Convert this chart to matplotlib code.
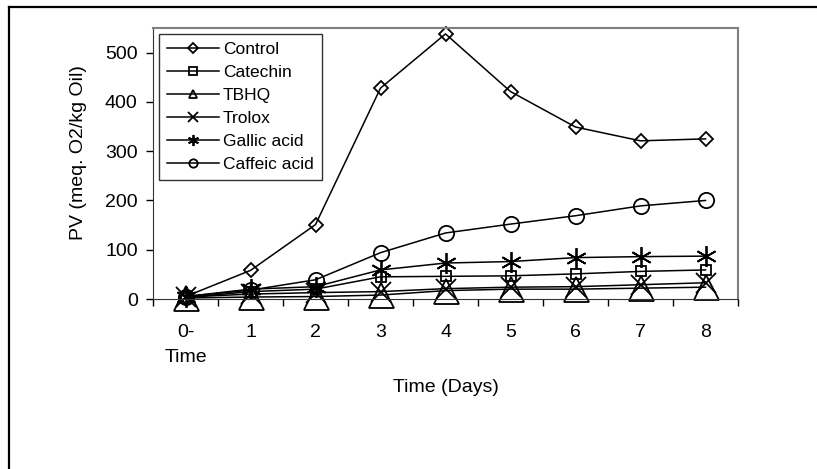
import matplotlib.pyplot as plt
from matplotlib.lines import Line2D
from matplotlib.ticker import FixedLocator

plt.rcParams['font.family'] = ['Liberation Sans', 'DejaVu Sans']

# data (PV, meq O2/kg oil)
days = ["0-\nTime", "1", "2", "3", "4", "5", "6", "7", "8"]
control = [5, 58, 151, 428, 538, 421, 349, 321, 325]
catechin = [3, 15, 20, 45, 46, 47, 51, 56, 59]
tbhq = [2, 4, 5, 8, 17, 20, 20, 22, 24]
trolox = [4, 10, 13, 15, 21, 24, 25, 29, 33]
gallic = [5, 20, 25, 59, 73, 76, 84, 86, 87]
caffeic = [5, 18, 39, 94, 134, 152, 169, 189, 200]

series = [
    ("Control", control, "D", 7, 5),
    ("Catechin", catechin, "s", 7, 6),
    ("TBHQ", tbhq, "^", 18, 6),
    ("Trolox", trolox, "x", 14, 7),
    ("Gallic acid", gallic, (6, 2, 0), 15, 8),
    ("Caffeic acid", caffeic, "o", 11, 6),
]

W, H = 817, 469
fig = plt.figure(figsize=(W / 100, H / 100), dpi=100)
ax = fig.add_axes([153 / W, 1 - 299 / H, (738 - 153) / W, (299 - 28) / H])

xs = list(range(len(days)))
handles = []
for name, vals, mk, ms, lms in series:
    ax.plot(xs, vals, color="black", lw=1.1, marker=mk, ms=ms,
            mfc="none", mec="black", mew=1.3, clip_on=False)
    handles.append(Line2D([], [], color="black", lw=1.1, marker=mk, ms=lms,
                          mfc="none", mec="black", mew=1.3, label=name))

ax.set_xlim(-0.5, 8.5)
ax.set_ylim(0, 550)
ax.xaxis.set_major_locator(FixedLocator([i - 0.5 for i in range(10)]))
ax.xaxis.set_minor_locator(FixedLocator(xs))
ax.set_xticklabels([], minor=False)
ax.set_xticklabels(days, minor=True, fontsize=14, linespacing=1.65,
                   va="top", ha="center")
ax.tick_params(axis="x", which="major", direction="out", length=5, width=1)
ax.tick_params(axis="x", which="minor", length=0, pad=18)
ax.set_yticks([0, 100, 200, 300, 400, 500])
ax.tick_params(axis="y", direction="out", length=5, width=1, labelsize=14, pad=6)

ax.spines["top"].set_color("#808080")
ax.spines["right"].set_color("#808080")
ax.spines["top"].set_linewidth(1.5)
ax.spines["right"].set_linewidth(1.5)
ax.spines["left"].set_color("#333333")
ax.spines["bottom"].set_color("#333333")

ax.set_ylabel("PV (meq. O2/kg Oil)", fontsize=14)
ax.yaxis.set_label_coords(-0.112, 0.54)
ax.set_xlabel("Time (Days)", fontsize=14, labelpad=9)

leg = ax.legend(handles=handles, loc="upper left", bbox_to_anchor=(0.01, 0.978),
                fontsize=12.5, frameon=True, fancybox=False, handlelength=3.0,
                handletextpad=0.25, labelspacing=0.45, borderpad=0.45,
                borderaxespad=0)
leg.get_frame().set_edgecolor("black")
leg.get_frame().set_linewidth(1)

# outer chart border (clipped at right and bottom)
fig.add_artist(Line2D([9 / W, 1], [1 - 7 / H, 1 - 7 / H], color="black", lw=1.6))
fig.add_artist(Line2D([9 / W, 9 / W], [1 - 7 / H, 0], color="black", lw=1.6))

fig.savefig("out.png", dpi=100)
